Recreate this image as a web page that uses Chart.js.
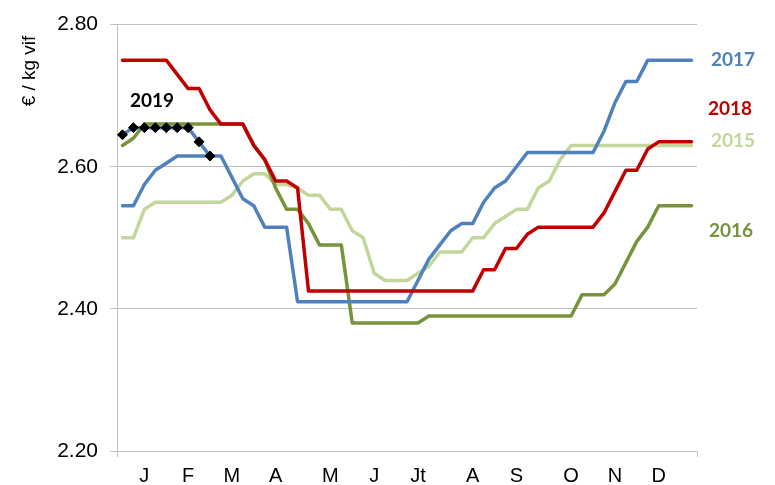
<!DOCTYPE html>
<html>
<head>
<meta charset="utf-8">
<script src="https://cdn.jsdelivr.net/npm/chart.js@4.4.1/dist/chart.umd.min.js"></script>
<style>
  body { margin: 0; background: #fff; }
</style>
</head>
<body>
<canvas id="prix" width="775" height="485"></canvas>
<script>
'use strict';

// mois affichés sous l'axe (semaine où le libellé tombe)
const monthLabels = ['J', 'F', 'M', 'A', 'M', 'J', 'Jt', 'A', 'S', 'O', 'N', 'D'];
const monthWeeks = [2, 6, 10, 14, 19, 23, 27, 32, 36, 41, 45, 49];
const nbWeeks = 53;

const yTicks = [2.20, 2.40, 2.60, 2.80];
const yTitle = '€ / kg vif';

// prix hebdo €/kg vif
const p2015 = [2.50, 2.50, 2.54, 2.55, 2.55, 2.55, 2.55, 2.55, 2.55, 2.55,
  2.56, 2.58, 2.59, 2.59, 2.575, 2.575, 2.57, 2.56, 2.56, 2.54,
  2.54, 2.51, 2.50, 2.45, 2.44, 2.44, 2.44, 2.45, 2.46, 2.48,
  2.48, 2.48, 2.50, 2.50, 2.52, 2.53, 2.54, 2.54, 2.57, 2.58,
  2.61, 2.63, 2.63, 2.63, 2.63, 2.63, 2.63, 2.63, 2.63, 2.63,
  2.63, 2.63, 2.63];
const p2016 = [2.63, 2.64, 2.66, 2.66, 2.66, 2.66, 2.66, 2.66, 2.66, 2.66,
  2.66, 2.66, 2.63, 2.61, 2.57, 2.54, 2.54, 2.52, 2.49, 2.49,
  2.49, 2.38, 2.38, 2.38, 2.38, 2.38, 2.38, 2.38, 2.39, 2.39,
  2.39, 2.39, 2.39, 2.39, 2.39, 2.39, 2.39, 2.39, 2.39, 2.39,
  2.39, 2.39, 2.42, 2.42, 2.42, 2.435, 2.465, 2.495, 2.515, 2.545,
  2.545, 2.545, 2.545];
const p2017 = [2.545, 2.545, 2.575, 2.595, 2.605, 2.615, 2.615, 2.615, 2.615, 2.615,
  2.585, 2.555, 2.545, 2.515, 2.515, 2.515, 2.41, 2.41, 2.41, 2.41,
  2.41, 2.41, 2.41, 2.41, 2.41, 2.41, 2.41, 2.44, 2.47, 2.49,
  2.51, 2.52, 2.52, 2.55, 2.57, 2.58, 2.60, 2.62, 2.62, 2.62,
  2.62, 2.62, 2.62, 2.62, 2.65, 2.69, 2.72, 2.72, 2.75, 2.75,
  2.75, 2.75, 2.75];
const p2018 = [2.75, 2.75, 2.75, 2.75, 2.75, 2.73, 2.71, 2.71, 2.68, 2.66,
  2.66, 2.66, 2.63, 2.61, 2.58, 2.58, 2.57, 2.425, 2.425, 2.425,
  2.425, 2.425, 2.425, 2.425, 2.425, 2.425, 2.425, 2.425, 2.425, 2.425,
  2.425, 2.425, 2.425, 2.455, 2.455, 2.485, 2.485, 2.505, 2.515, 2.515,
  2.515, 2.515, 2.515, 2.515, 2.535, 2.565, 2.595, 2.595, 2.625, 2.635,
  2.635, 2.635, 2.635];
const p2019 = [2.645, 2.655, 2.655, 2.655, 2.655, 2.655, 2.655, 2.635, 2.615];

const gris = '#BFBFBF';
const font = '"Liberation Sans", Arial, sans-serif';

// libellés de catégories : vide sauf la semaine du mois
let weeks = [];
for (let i = 0; i < nbWeeks; i++) {
  let k = monthWeeks.indexOf(i);
  weeks.push(k >= 0 ? monthLabels[k] : '');
}

// noms des séries posés à côté des courbes
const seriesTags = {
  id: 'seriesTags',
  afterDatasetsDraw(chart) {
    const ctx = chart.ctx;
    const area = chart.chartArea;
    const x = chart.scales.x;
    const y = chart.scales.y;
    const tags = [
      { text: '2017', color: '#4F81BD', px: area.right + 36, v: 2.751 },
      { text: '2018', color: '#C00000', px: area.right + 33, v: 2.681 },
      { text: '2015', color: '#C3D69B', px: area.right + 36, v: 2.637 },
      { text: '2016', color: '#77933C', px: area.right + 34, v: 2.510 },
      { text: '2019', color: '#000000', px: x.getPixelForValue(2.7), v: 2.692 }
    ];
    ctx.save();
    ctx.font = 'bold 19px Lato, "Noto Sans", sans-serif';
    ctx.textAlign = 'center';
    ctx.textBaseline = 'middle';
    tags.forEach(t => {
      ctx.fillStyle = t.color;
      ctx.fillText(t.text, t.px, y.getPixelForValue(t.v));
    });
    // titre de l'axe
    ctx.font = '19px ' + font;
    ctx.fillStyle = '#000';
    ctx.translate(30, 71);
    ctx.rotate(-Math.PI / 2);
    ctx.fillText(yTitle, 0, 0);
    ctx.restore();
  }
};

function line(label, data, color, order) {
  return {
    label: label,
    data: data,
    borderColor: color,
    backgroundColor: color,
    borderWidth: 3.5,
    borderJoinStyle: 'round',
    borderCapStyle: 'round',
    pointRadius: 0,
    tension: 0,
    fill: false,
    order: order
  };
}

let d2019 = line('2019', p2019, '#4F81BD', 0);
d2019.pointStyle = 'rectRot';
d2019.pointRadius = 5;
d2019.pointBackgroundColor = '#000';
d2019.pointBorderColor = '#000';
d2019.pointBorderWidth = 1;

new Chart(document.getElementById('prix').getContext('2d'), {
  type: 'line',
  data: {
    labels: weeks,
    datasets: [
      line('2015', p2015, '#C3D69B', 4),
      line('2016', p2016, '#77933C', 3),
      line('2017', p2017, '#4F81BD', 2),
      line('2018', p2018, '#C00000', 1),
      d2019
    ]
  },
  options: {
    responsive: false,
    animation: false,
    layout: { padding: { top: 18, right: 78, left: 0, bottom: 0 } },
    plugins: {
      legend: { display: false },
      tooltip: { enabled: false }
    },
    scales: {
      x: {
        offset: true,
        grid: {
          offset: true,
          drawOnChartArea: false,
          tickLength: 6,
          color: c => (c.index === 0 || c.type === 'scale') ? gris : 'rgba(0,0,0,0)'
        },
        border: { color: gris, width: 1 },
        ticks: {
          autoSkip: false,
          maxRotation: 0,
          padding: 7,
          color: '#000',
          font: { family: font, size: 20 }
        },
        afterFit: s => { s.height = 34; }
      },
      y: {
        min: yTicks[0],
        max: yTicks[yTicks.length - 1],
        afterBuildTicks: s => { s.ticks = yTicks.map(v => ({ value: v })); },
        grid: { color: gris, tickLength: 7 },
        border: { color: gris, width: 1 },
        ticks: {
          padding: 12,
          color: '#000',
          font: { family: font, size: 21 },
          callback: v => Number(v).toFixed(2)
        },
        afterFit: s => { s.width = 117; }
      }
    }
  },
  plugins: [seriesTags]
});
</script>
</body>
</html>
